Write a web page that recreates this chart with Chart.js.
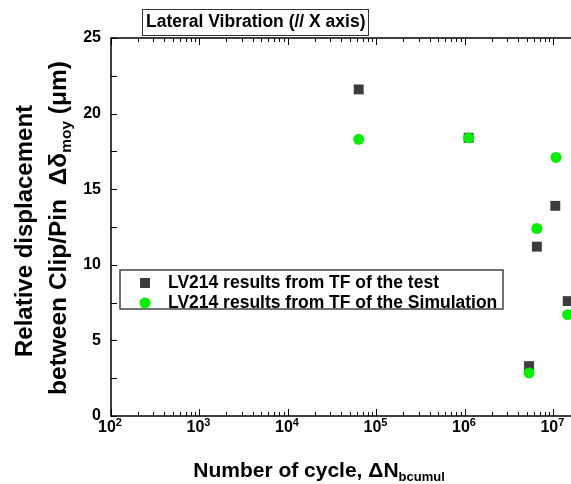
<!DOCTYPE html>
<html>
<head>
<meta charset="utf-8">
<script src="https://cdn.jsdelivr.net/npm/chart.js@4"></script>
<style>
  html, body { margin: 0; padding: 0; background: #fff; }
  #wrap { width: 571px; height: 484px; position: relative; }
</style>
</head>
<body>
<div id="wrap"><canvas id="chart" width="571" height="484"></canvas></div>
<script>
// values
const decades = [1e2, 1e3, 1e4, 1e5, 1e6, 1e7];
const tickExp = ['2', '3', '4', '5', '6', '7'];
const testX = [6.3e4, 1.1e6, 5.3e6, 6.5e6, 1.05e7, 1.45e7];
const testY = [21.6, 18.4, 3.3, 11.2, 13.9, 7.6];
const simX = [6.3e4, 1.1e6, 5.3e6, 6.5e6, 1.07e7, 1.45e7];
const simY = [18.3, 18.4, 2.85, 12.4, 17.1, 6.7];
const seriesNames = ['LV214 results from TF of the test', 'LV214 results from TF of the Simulation'];
const chartTitle = 'Lateral Vibration (// X axis)';

const FONT = 'Arial, "Liberation Sans", sans-serif';
Chart.defaults.font.family = FONT;
Chart.defaults.font.weight = 'bold';
Chart.defaults.font.size = 16;
Chart.defaults.color = '#000';

const toPoints = (xs, ys) => xs.map((x, i) => ({ x, y: ys[i] }));

// text with sub/superscript parts, centred on cx
function drawParts(ctx, parts, cx, cy) {
  let w = 0;
  parts.forEach(p => {
    ctx.font = 'bold ' + p.size + 'px ' + FONT;
    w += ctx.measureText(p.t).width;
  });
  let x = cx - w / 2;
  ctx.textAlign = 'left';
  ctx.textBaseline = 'alphabetic';
  parts.forEach(p => {
    ctx.font = 'bold ' + p.size + 'px ' + FONT;
    ctx.fillText(p.t, x, cy + (p.dy || 0));
    x += ctx.measureText(p.t).width;
  });
}

const decor = {
  id: 'decor',
  afterDatasetsDraw(chart) {
    const { ctx, chartArea: a, scales } = chart;
    const xs = scales.x, ys = scales.y;
    ctx.save();
    ctx.strokeStyle = '#000';
    ctx.lineWidth = 1;
    // inward ticks, bottom and top
    for (let e = 2; e <= 7; e++) {
      for (let m = 1; m <= 9; m++) {
        const v = m * Math.pow(10, e);
        if (v > xs.max) continue;
        const px = Math.round(xs.getPixelForValue(v)) + 0.5;
        const len = m === 1 ? 7 : 4;
        ctx.beginPath();
        ctx.moveTo(px, a.bottom); ctx.lineTo(px, a.bottom - len);
        ctx.moveTo(px, a.top); ctx.lineTo(px, a.top + len);
        ctx.stroke();
      }
    }
    // inward ticks, left
    for (let v = 0; v <= 25; v += 2.5) {
      const py = Math.round(ys.getPixelForValue(v)) + 0.5;
      ctx.beginPath();
      ctx.moveTo(a.left, py); ctx.lineTo(a.left + 6, py);
      ctx.stroke();
    }
    // frame
    ctx.lineWidth = 1.5;
    ctx.strokeRect(a.left, a.top, a.right - a.left + 5, a.bottom - a.top);

    // x tick labels 10^n
    ctx.fillStyle = '#000';
    decades.forEach((v, i) => {
      const px = xs.getPixelForValue(v);
      drawParts(ctx, [
        { t: '10', size: 16 },
        { t: tickExp[i], size: 11, dy: -6 }
      ], px - 1, 432);
    });

    // title box
    ctx.font = 'bold 17.5px ' + FONT;
    ctx.fillStyle = '#fff';
    ctx.fillRect(142, 9, 226, 26);
    ctx.strokeStyle = '#333';
    ctx.lineWidth = 1;
    ctx.strokeRect(142.5, 9.5, 226, 26);
    ctx.fillStyle = '#000';
    ctx.textBaseline = 'middle';
    ctx.textAlign = 'left';
    ctx.fillText(chartTitle, 146, 22.5);

    // legend box
    ctx.fillStyle = '#fff';
    ctx.fillRect(120, 270, 383, 39);
    ctx.strokeStyle = '#444';
    ctx.lineWidth = 1.5;
    ctx.strokeRect(120, 270, 383, 39);
    chart.data.datasets.forEach((ds, i) => {
      const y = 283 + i * 20;
      ctx.fillStyle = ds.backgroundColor;
      if (ds.pointStyle === 'rect') {
        ctx.fillRect(140, y - 5, 10, 10);
      } else {
        ctx.beginPath();
        ctx.arc(145, y, 5.5, 0, Math.PI * 2);
        ctx.fill();
      }
      ctx.fillStyle = '#000';
      ctx.font = 'bold 17.5px ' + FONT;
      ctx.textBaseline = 'middle';
      ctx.textAlign = 'left';
      ctx.fillText(ds.label, 168, y);
    });

    // axis titles
    ctx.fillStyle = '#000';
    drawParts(ctx, [
      { t: 'Number of cycle, ', size: 21 },
      { t: 'ΔN', size: 21 },
      { t: 'bcumul', size: 13, dy: 4 }
    ], 319, 477);

    ctx.save();
    ctx.rotate(-Math.PI / 2);
    drawParts(ctx, [{ t: 'Relative displacement', size: 24 }], -231, 32);
    drawParts(ctx, [
      { t: 'between Clip/Pin  Δδ', size: 24.5 },
      { t: 'moy', size: 15.5, dy: 5 },
      { t: ' (μm)', size: 24.5 }
    ], -228, 66);
    ctx.restore();

    ctx.restore();
  }
};

new Chart(document.getElementById('chart'), {
  type: 'scatter',
  data: {
    datasets: [
      {
        label: seriesNames[0],
        data: toPoints(testX, testY),
        pointStyle: 'rect',
        pointRadius: 7,
        backgroundColor: '#3c3c3c',
        borderWidth: 0,
        order: 1,
        clip: false
      },
      {
        label: seriesNames[1],
        data: toPoints(simX, simY),
        pointStyle: 'circle',
        pointRadius: 5.5,
        backgroundColor: '#00f000',
        borderWidth: 0,
        order: 0,
        clip: false
      }
    ]
  },
  options: {
    responsive: false,
    animation: false,
    layout: { autoPadding: false, padding: { left: 0, right: 0, top: 38, bottom: 0 } },
    plugins: { legend: { display: false }, title: { display: false }, tooltip: { enabled: false } },
    scales: {
      x: {
        type: 'logarithmic',
        min: 100,
        max: 1.58e7,
        afterFit: s => { s.height = 68; s.paddingLeft = 0; s.paddingRight = 0; },
        afterBuildTicks: s => { s.ticks = decades.map(v => ({ value: v })); },
        grid: { display: false, drawTicks: false },
        border: { display: false },
        ticks: { display: false }
      },
      y: {
        min: 0,
        max: 25,
        afterFit: s => { s.width = 111; s.paddingTop = 0; s.paddingBottom = 0; },
        grid: { display: false, drawTicks: false },
        border: { display: false },
        ticks: { stepSize: 5, padding: 10 }
      }
    }
  },
  plugins: [decor]
});
</script>
</body>
</html>
